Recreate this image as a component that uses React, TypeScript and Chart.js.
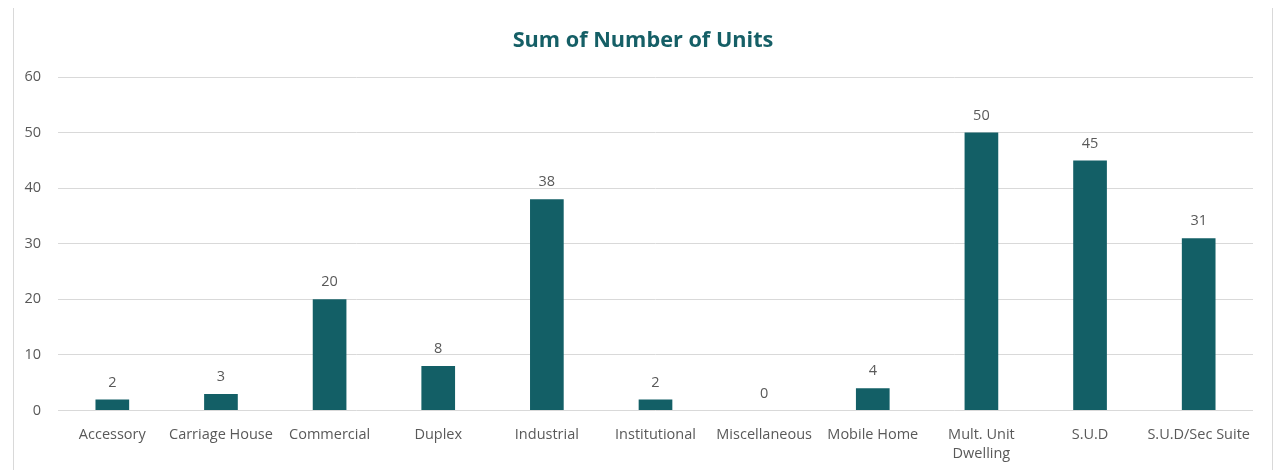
import React, { useEffect, useRef } from "react";
import { Chart, registerables } from "chart.js";

Chart.register(...registerables);

const categories: (string | string[])[] = [
  "Accessory",
  "Carriage House",
  "Commercial",
  "Duplex",
  "Industrial",
  "Institutional",
  "Miscellaneous",
  "Mobile Home",
  ["Mult. Unit", "Dwelling"],
  "S.U.D",
  "S.U.D/Sec Suite",
];
const units = [2, 3, 20, 8, 38, 2, 0, 4, 50, 45, 31];
const yTicks = [0, 10, 20, 30, 40, 50, 60];
const titleText = "Sum of Number of Units";

const BAR = "#135F66";
const TEXT = "#595959";
const GRID = "#D9D9D9";
const FONT = "'Open Sans', 'Noto Sans', sans-serif";

const dataLabels = {
  id: "dataLabels",
  afterDatasetsDraw(chart: any) {
    const ctx = chart.ctx;
    const meta = chart.getDatasetMeta(0);
    ctx.save();
    ctx.fillStyle = TEXT;
    ctx.font = `14.5px ${FONT}`;
    ctx.textAlign = "center";
    ctx.textBaseline = "middle";
    meta.data.forEach((el: any, i: number) => {
      ctx.fillText(String(units[i]), el.x, el.y - 17);
    });
    ctx.restore();
  },
};

const centeredTitle = {
  id: "centeredTitle",
  afterDraw(chart: any) {
    const ctx = chart.ctx;
    ctx.save();
    ctx.fillStyle = "#155F66";
    ctx.font = `bold 21.7px ${FONT}`;
    ctx.textAlign = "center";
    ctx.textBaseline = "middle";
    ctx.fillText(titleText, chart.width / 2, 33);
    ctx.restore();
  },
};

export default function App() {
  const ref = useRef<HTMLCanvasElement>(null);
  useEffect(() => {
    if (!ref.current) return;
    const chart = new Chart(ref.current, {
      type: "bar",
      data: {
        labels: categories,
        datasets: [
          {
            data: units,
            backgroundColor: BAR,
            categoryPercentage: 1,
            barPercentage: 0.31,
          },
        ],
      },
      options: {
        animation: false,
        responsive: false,
        layout: { padding: { left: 0, right: 19, top: 69, bottom: 6 } },
        plugins: {
          legend: { display: false },
          tooltip: { enabled: false },
          title: { display: false },
        },
        scales: {
          x: {
            grid: { display: false },
            border: { display: false },
            ticks: {
              color: TEXT,
              font: { family: FONT, size: 14.5, lineHeight: 1.36 },
              maxRotation: 0,
              minRotation: 0,
              autoSkip: false,
              padding: 6,
            },
          },
          y: {
            min: 0,
            max: 60,
            afterBuildTicks: (axis: any) => {
              axis.ticks = yTicks.map((v) => ({ value: v }));
            },
            afterFit: (axis: any) => {
              axis.width = 44;
            },
            grid: { color: GRID, drawTicks: false, lineWidth: 1 },
            border: { display: false },
            ticks: {
              color: TEXT,
              font: { family: FONT, size: 14.5 },
              padding: 17,
            },
          },
        },
      },
      plugins: [dataLabels, centeredTitle],
    });
    return () => chart.destroy();
  }, []);
  return (
    <div
      style={{
        margin: "-1px 0 0 5px",
        width: 1260,
        height: 470,
        border: "1px solid #D9D9D9",
        boxSizing: "border-box",
        background: "#fff",
      }}
    >
      <canvas ref={ref} width={1258} height={468} style={{ display: "block" }} />
    </div>
  );
}
